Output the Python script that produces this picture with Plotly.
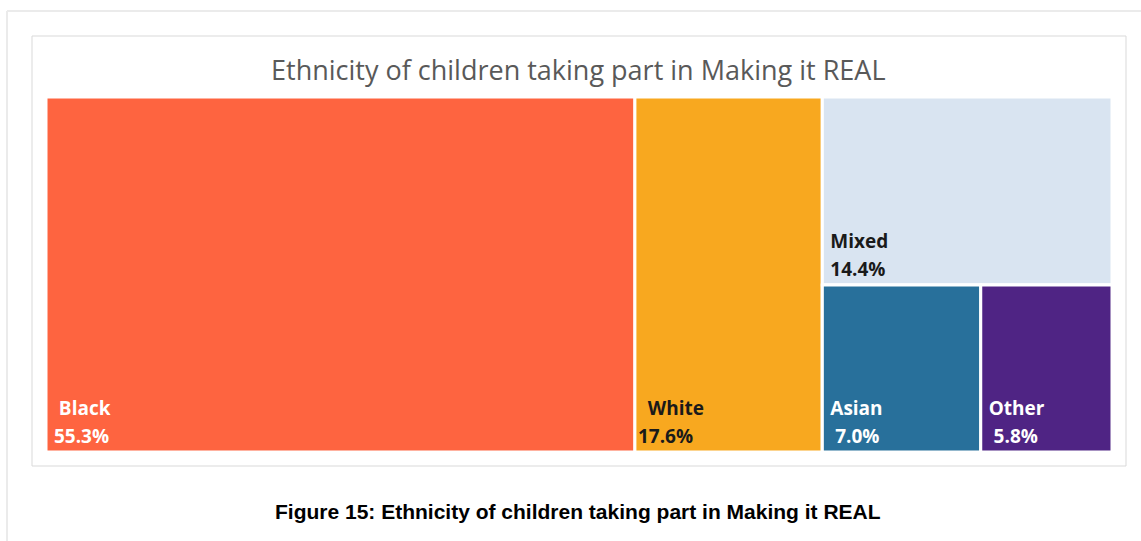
import plotly.graph_objects as go

# Data
categories = ["Black", "White", "Mixed", "Asian", "Other"]
shares = [55.3, 17.6, 14.4, 7.0, 5.8]
value_labels = ["55.3%", "17.6%", "14.4%", "7.0%", "5.8%"]
colors = ["#FE6440", "#F8A81F", "#D9E4F1", "#28709B", "#4F2484"]
text_colors = ["#FFFFFF", "#1A1A1A", "#1A1A1A", "#FFFFFF", "#FFFFFF"]

# text indents (number of non-breaking spaces) – styling only
label_indent = [2, 2, 1, 1, 1]
value_indent = [1, 0, 1, 2, 2]

title_text = "Ethnicity of children taking part in Making it REAL"
caption_text = "Figure 15: Ethnicity of children taking part in Making it REAL"

# hierarchy: Black, White, [Mixed, [Asian, Other]]
g2_val = shares[3] + shares[4]
g1_val = shares[2] + g2_val
ids = ["root", "Black", "White", "g1", "Mixed", "g2", "Asian", "Other"]
labels = ["", "Black", "White", "", "Mixed", "", "Asian", "Other"]
parents = ["", "root", "root", "root", "g1", "g1", "g2", "g2"]
values = [sum(shares), shares[0], shares[1], g1_val, shares[2], g2_val, shares[3], shares[4]]
idx = {c: i for i, c in enumerate(categories)}
node_colors = []
node_text_colors = []
custom = []
templates = []
NB = "\u00a0"
for lab in labels:
    if lab in idx:
        i = idx[lab]
        node_colors.append(colors[i])
        node_text_colors.append(text_colors[i])
        custom.append(value_labels[i])
        templates.append(
            "<span style='font-size:19px'><b>" + NB * label_indent[i] + "%{label}</b></span><br>"
            "<span style='font-size:19px'><b>" + NB * value_indent[i] + "%{customdata}</b></span>")
    else:
        node_colors.append("#FFFFFF")
        node_text_colors.append("#FFFFFF")
        custom.append("")
        templates.append("")

W, H = 1141, 541
fig = go.Figure(go.Treemap(
    ids=ids, labels=labels, parents=parents, values=values,
    customdata=custom,
    branchvalues="total", sort=False,
    marker=dict(colors=node_colors, line=dict(color="#FFFFFF", width=3),
                pad=dict(t=0, l=0, r=0, b=0)),
    tiling=dict(packing="slice-dice", pad=0),
    pathbar=dict(visible=False),
    texttemplate=templates,
    textposition="bottom left",
    textfont=dict(family="Open Sans", size=21.5, color=node_text_colors),
    hoverinfo="skip",
    domain=dict(x=[46 / W, 1112 / W], y=[1 - 452 / H, 1 - 97 / H]),
))

fig.update_layout(
    width=W, height=H,
    margin=dict(l=0, r=0, t=0, b=0),
    paper_bgcolor="#FFFFFF",
    showlegend=False,
    shapes=[
        dict(type="line", xref="paper", yref="paper", x0=7 / W, x1=1, y0=1 - 11 / H, y1=1 - 11 / H,
             line=dict(color="#EBEBEB", width=2)),
        dict(type="line", xref="paper", yref="paper", x0=7 / W, x1=7 / W, y0=0, y1=1 - 11 / H,
             line=dict(color="#EBEBEB", width=2)),
        dict(type="rect", xref="paper", yref="paper", x0=32 / W, x1=1126 / W,
             y0=1 - 466 / H, y1=1 - 36 / H, line=dict(color="#D9D9D9", width=1), layer="below"),
    ],
    annotations=[
        dict(text=title_text, x=578 / W, y=1 - 69 / H, xref="paper", yref="paper",
             showarrow=False, xanchor="center", yanchor="middle",
             font=dict(family="Open Sans", size=27, color="#595959")),
        dict(text="<b>" + caption_text + "</b>", x=578 / W, y=1 - 511 / H, xref="paper", yref="paper",
             showarrow=False, xanchor="center", yanchor="middle",
             font=dict(family="Liberation Sans", size=21, color="#000000")),
    ],
)

fig.write_html("out.html", config={"displayModeBar": False},
               post_script="document.body.style.margin='0';")
